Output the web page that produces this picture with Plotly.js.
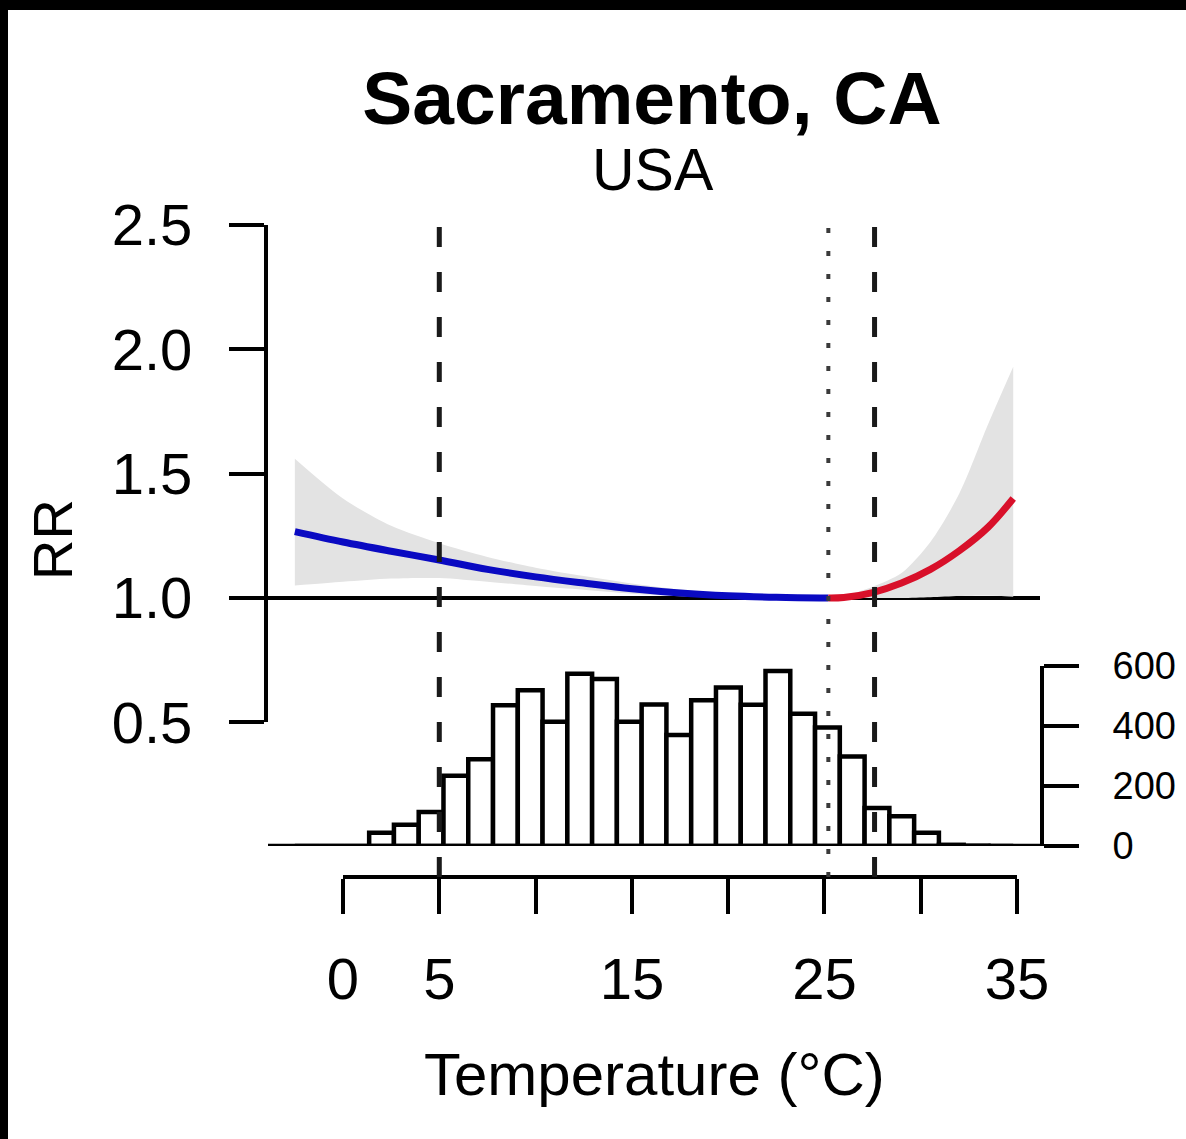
<!DOCTYPE html>
<html>
<head>
<meta charset="utf-8">
<script src="https://cdn.plot.ly/plotly-3.0.1.min.js"></script>
<style>
  html, body { margin:0; padding:0; background:#fff; }
  #wrap { position:relative; width:1186px; height:1139px; overflow:hidden; }
  #chart { position:absolute; left:0; top:0; width:1186px; height:1139px; }
  .bandTop { position:absolute; left:0; top:0; width:1186px; height:10px; background:#000; }
  .bandLeft { position:absolute; left:0; top:0; width:8px; height:1139px; background:#000; }
</style>
</head>
<body>
<div id="wrap">
  <div id="chart"></div>
  <div class="bandTop"></div>
  <div class="bandLeft"></div>
</div>
<script>
// ---- data ----
const tempC  = [-2.5, 0, 2.5, 5, 7.5, 10, 12.5, 15, 17.5, 20, 22.5, 25.2, 26, 27.5, 29, 30.5, 32, 33.5, 34.8];
const rrFit  = [1.267, 1.225, 1.188, 1.153, 1.115, 1.085, 1.06, 1.037, 1.02, 1.009, 1.003, 1.0, 1.002, 1.022, 1.06, 1.115, 1.19, 1.285, 1.40];
const rrHigh = [1.56, 1.40, 1.29, 1.22, 1.165, 1.122, 1.088, 1.058, 1.034, 1.017, 1.006, 1.0, 1.008, 1.045, 1.10, 1.225, 1.42, 1.70, 1.93];
const rrLow  = [1.05, 1.065, 1.078, 1.08, 1.065, 1.048, 1.033, 1.017, 1.007, 1.001, 1.0, 1.0, 0.999, 1.0, 1.0, 1.003, 1.008, 1.01, 1.005];

const mmt = 25.2;          // minimum mortality temperature (dotted)
const pctLow = 5.0;        // lower percentile (dashed)
const pctHigh = 27.6;      // upper percentile (dashed)
const rrRef = 1.0;

const histStart = -2.5;
const histWidth = 1.2862;
const histCounts = [0, 0, 0, 44, 71, 113, 234, 289, 469, 519, 414, 574, 557, 414, 472, 370, 486, 528, 471, 583, 441, 395, 298, 127, 99, 44, 4, 1, 0];

const xTickVals = [0, 5, 10, 15, 20, 25, 30, 35];
const xTickText = ['0', '5', '', '15', '', '25', '', '35'];
const rrTickVals = [0.5, 1.0, 1.5, 2.0, 2.5];
const rrTickText = ['0.5', '1.0', '1.5', '2.0', '2.5'];
const countTickVals = [0, 200, 400, 600];
const countTickText = ['0', '200', '400', '600'];

// ---- layout helpers ----
const FONT = 'Liberation Sans, Arial, sans-serif';
const xRange = [-3.894, 36.19];           // full plot region in degrees
const rrFull = [-0.122, 2.512];           // full plot region in RR units
const cntFull = [-103.3, 2080];           // full plot region in counts
const rrAx = [rrTickVals[0], rrTickVals[rrTickVals.length-1]];
const cntAx = [countTickVals[0], countTickVals[countTickVals.length-1]];
const xAx = [xTickVals[0], xTickVals[xTickVals.length-1]];
const frac = (v, r) => (v - r[0]) / (r[1] - r[0]);

// split curve at MMT
const blueT = [], blueR = [], redT = [], redR = [];
tempC.forEach((t, i) => {
  if (t <= mmt) { blueT.push(t); blueR.push(rrFit[i]); }
  if (t >= mmt) { redT.push(t); redR.push(rrFit[i]); }
});

const binCenters = histCounts.map((c, i) => histStart + (i + 0.5) * histWidth);

const traces = [
  { type:'scatter', x: tempC, y: rrLow, mode:'lines', line:{width:0, color:'rgba(0,0,0,0)', shape:'spline', smoothing:0.8},
    xaxis:'x', yaxis:'y', hoverinfo:'skip' },
  { type:'scatter', x: tempC, y: rrHigh, mode:'lines', fill:'tonexty', fillcolor:'#e3e3e3',
    line:{width:0, color:'rgba(0,0,0,0)', shape:'spline', smoothing:0.8},
    xaxis:'x', yaxis:'y', hoverinfo:'skip' },
  { type:'scatter', x: blueT, y: blueR, mode:'lines', line:{color:'#0a0ac2', width:7, shape:'spline'},
    xaxis:'x', yaxis:'y', hoverinfo:'skip' },
  { type:'scatter', x: redT, y: redR, mode:'lines', line:{color:'#d8102a', width:7, shape:'spline'},
    xaxis:'x', yaxis:'y', hoverinfo:'skip' },
  { type:'bar', x: binCenters, y: histCounts, width: histWidth,
    marker:{color:'#ffffff', line:{color:'#000000', width:4.5}},
    xaxis:'x', yaxis:'y2', hoverinfo:'skip' },
  { type:'scatter', x: xTickVals, y: xTickVals.map(() => null), mode:'lines',
    xaxis:'x2', yaxis:'y', hoverinfo:'skip', showlegend:false }
];

const vline = (x, dash, width, color) => ({
  type:'line', xref:'x', yref:'paper', x0:x, x1:x, y0:0, y1:1.005, layer:'above',
  line:{color:color, width:width, dash:dash}
});

const layout = {
  width:1186, height:1139,
  margin:{l:268, r:146, t:222, b:262, pad:0},
  paper_bgcolor:'#ffffff', plot_bgcolor:'rgba(0,0,0,0)',
  showlegend:false,
  bargap:0,
  font:{family:FONT, color:'#000'},
  title:{text:'Sacramento, CA', font:{family:FONT, size:75, weight:700, color:'#000'},
         xref:'container', yref:'container', x:652/1186, xanchor:'center', y:1-98/1139, yanchor:'middle'},
  xaxis:{domain:[0,1], range:xRange, visible:false, showgrid:false, zeroline:false, anchor:'y', fixedrange:true},
  xaxis2:{domain:[frac(xAx[0], xRange), frac(xAx[1], xRange)], range:xAx, anchor:'free', position:0,
          showline:true, linewidth:4, linecolor:'#000', ticks:'outside', ticklen:35, tickwidth:4, tickcolor:'#000',
          tickvals:xTickVals, ticktext:xTickText, tickfont:{family:FONT, size:58, color:'#000'},
          ticklabelstandoff:15, showgrid:false, zeroline:false, fixedrange:true},
  yaxis:{domain:[frac(rrAx[0], rrFull), frac(rrAx[1], rrFull)], range:rrAx, anchor:'x', side:'left',
         showline:true, linewidth:4, linecolor:'#000', ticks:'outside', ticklen:35, tickwidth:4, tickcolor:'#000',
         tickvals:rrTickVals, ticktext:rrTickText, tickfont:{family:FONT, size:58, color:'#000'},
         ticklabelstandoff:25, showgrid:false, zeroline:false, fixedrange:true},
  yaxis2:{domain:[frac(cntAx[0], cntFull), frac(cntAx[1], cntFull)], range:cntAx, anchor:'x', side:'right',
          showline:true, linewidth:4, linecolor:'#000', ticks:'outside', ticklen:35, tickwidth:4, tickcolor:'#000',
          tickvals:countTickVals, ticktext:countTickText, tickfont:{family:FONT, size:38, color:'#000'},
          ticklabelstandoff:26, showgrid:false, zeroline:false, fixedrange:true},
  shapes:[
    {type:'line', xref:'paper', x0:0, x1:1, yref:'y', y0:rrRef, y1:rrRef, layer:'below', line:{color:'#000', width:4}},
    {type:'line', xref:'paper', x0:0, x1:1, yref:'y2', y0:0, y1:0, layer:'above', line:{color:'#000', width:4.5}},
    vline(pctLow, '20px,25px', 5, '#1a1a1a'),
    vline(pctHigh, '20px,25px', 5, '#1a1a1a'),
    vline(mmt, '5px,18px', 4, '#3a3a3a')
  ],
  annotations:[
    {text:'USA', xref:'paper', yref:'paper', x:frac(653, [268,1040]), y:(877-170)/655, xanchor:'center', yanchor:'middle',
     showarrow:false, font:{family:FONT, size:59, color:'#000'}},
    {text:'RR', xref:'paper', yref:'paper', x:(52-268)/772, y:(877-540)/655, xanchor:'center', yanchor:'middle',
     textangle:-90, showarrow:false, font:{family:FONT, size:56, color:'#000'}},
    {text:'Temperature (°C)', xref:'paper', yref:'paper', x:0.5, y:(877-1074)/655, xanchor:'center', yanchor:'middle',
     showarrow:false, font:{family:FONT, size:60, color:'#000'}}
  ]
};

Plotly.newPlot('chart', traces, layout, {staticPlot:true, displayModeBar:false});
</script>
</body>
</html>
